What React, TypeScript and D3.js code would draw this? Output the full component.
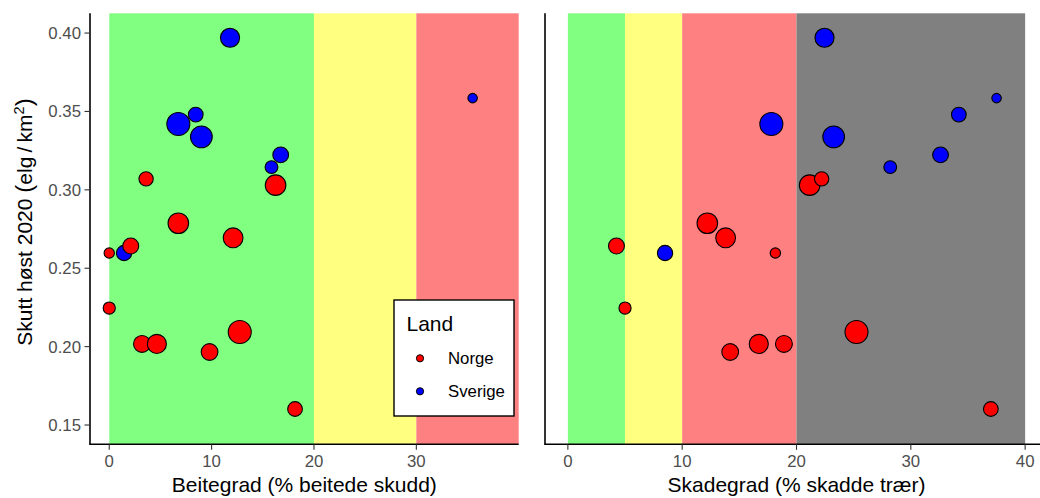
import React from 'react';
import * as d3 from 'd3';

// Data (one entry per area)
const land = [
  'Sverige', 'Sverige', 'Sverige', 'Sverige', 'Sverige', 'Sverige', 'Sverige', 'Sverige',
  'Norge', 'Norge', 'Norge', 'Norge', 'Norge', 'Norge', 'Norge', 'Norge', 'Norge', 'Norge', 'Norge', 'Norge',
];
const beitegrad = [11.8, 35.5, 8.45, 6.75, 9.0, 16.75, 15.85, 1.45, 16.25, 3.6, 6.75, 12.1, 2.1, 0, 0, 12.75, 3.2, 4.65, 9.8, 18.15];
const skadegrad = [22.45, 37.5, 34.2, 17.8, 23.25, 32.6, 28.2, 8.5, 21.15, 22.2, 12.2, 13.8, 4.25, 18.15, 5.0, 25.25, 18.9, 16.7, 14.2, 37.0];
const skutt = [0.397, 0.3585, 0.348, 0.342, 0.3338, 0.3223, 0.3145, 0.2597, 0.303, 0.307, 0.2787, 0.2694, 0.2642, 0.2597, 0.2246, 0.2093, 0.2017, 0.2017, 0.1966, 0.1602];
const storrelse = [69, 17, 41, 100, 89, 47, 31, 44, 80, 39, 80, 74, 48, 20, 28, 100, 54, 69, 53, 41];

const landNavn = ['Norge', 'Sverige'];
const yTicks = [0.15, 0.2, 0.25, 0.3, 0.35, 0.4];
const beiteTicks = [0, 10, 20, 30];
const skadeTicks = [0, 10, 20, 30, 40];
const beiteGrenser = [0, 20, 30, 40];
const skadeGrenser = [0, 5, 10, 20, 40];

const soneFarger = ['#80FF80', '#FFFF80', '#FF8080', '#808080'];
const landFarge = d3.scaleOrdinal<string, string>().domain(landNavn).range(['#FF0000', '#0000FF']);

const points = land.map((l, i) => ({
  land: l,
  beite: beitegrad[i],
  skade: skadegrad[i],
  skutt: skutt[i],
  size: storrelse[i],
}));

const top = 13.3;
const bottom = 444.3;
const font = '"Liberation Sans", Arial, Helvetica, sans-serif';

const y = d3.scaleLinear().domain([0.1377, 0.4126]).range([bottom, top]);
const r = d3.scaleSqrt().domain([0, 100]).range([0, 11.5]);

type PanelProps = {
  x: d3.ScaleLinear<number, number>;
  left: number;
  right: number;
  grenser: number[];
  ticks: number[];
  value: (d: (typeof points)[number]) => number;
  title: string;
  showY: boolean;
};

const Panel = ({ x, left, right, grenser, ticks, value, title, showY }: PanelProps) => {
  const soner = d3.pairs(grenser);
  return (
    <g>
      {soner.map(([a, b], i) => (
        <rect key={i} x={x(a)} y={top} width={x(b) - x(a)} height={bottom - top} fill={soneFarger[i]} />
      ))}
      {points.map((d, i) => (
        <circle
          key={i}
          cx={x(value(d))}
          cy={y(d.skutt)}
          r={r(d.size)}
          fill={landFarge(d.land)}
          stroke="#000"
          strokeWidth={1.1}
        />
      ))}
      {/* axes */}
      <line x1={left} x2={left} y1={top} y2={bottom} stroke="#000" strokeWidth={1.6} />
      <line x1={left - 0.8} x2={right} y1={bottom} y2={bottom} stroke="#000" strokeWidth={1.6} />
      {ticks.map(t => (
        <g key={t} transform={`translate(${x(t)},${bottom})`}>
          <line y1={0} y2={5.5} stroke="#333" strokeWidth={1.1} />
          <text y={23.2} textAnchor="middle" fontSize={16.8} fill="#4D4D4D" fontFamily={font}>{t}</text>
        </g>
      ))}
      {showY && yTicks.map(t => (
        <g key={t} transform={`translate(${left},${y(t)})`}>
          <line x1={-5.5} x2={0} stroke="#333" strokeWidth={1.1} />
          <text x={-9} y={6} textAnchor="end" fontSize={16.8} fill="#4D4D4D" fontFamily={font}>{d3.format('.2f')(t)}</text>
        </g>
      ))}
      <text x={(left + x.range()[1]) / 2} y={492} textAnchor="middle" fontSize={21} fill="#000" fontFamily={font}>{title}</text>
    </g>
  );
};

export default function App() {
  const xBeite = d3.scaleLinear().domain([-1.88, 40]).range([90, 518.7]);
  const xSkade = d3.scaleLinear().domain([-2, 42]).range([545, 1048]);

  return (
    <svg width={1040} height={498} style={{ display: 'block', position: 'absolute', left: 0, top: 0 }}>
      <rect width={1040} height={498} fill="#fff" />
      <Panel x={xBeite} left={90} right={518.7} grenser={beiteGrenser} ticks={beiteTicks}
        value={d => d.beite} title="Beitegrad (% beitede skudd)" showY />
      <Panel x={xSkade} left={545} right={1040} grenser={skadeGrenser} ticks={skadeTicks}
        value={d => d.skade} title="Skadegrad (% skadde trær)" showY={false} />

      <text transform="translate(32,222) rotate(-90)" textAnchor="middle" fontSize={21} fill="#000" fontFamily={font}>
        <tspan>Skutt høst 2020 </tspan>
        <tspan fontSize={24}>(</tspan>
        <tspan>elg</tspan>
        <tspan>{'\u2009/\u2009'}</tspan>
        <tspan>km</tspan>
        <tspan dy={-8} fontSize={14.5}>2</tspan>
        <tspan dy={8} fontSize={24}>)</tspan>
      </text>

      {/* legend */}
      <g fontFamily={font}>
        <rect x={394} y={300} width={120} height={116} fill="#fff" stroke="#000" strokeWidth={1.4} />
        <text x={406.5} y={330.5} fontSize={21} fill="#000">Land</text>
        {landNavn.map((n, i) => (
          <g key={n} transform={`translate(420,${358.3 + i * 33})`}>
            <circle r={3.6} fill={landFarge(n)} stroke="#000" strokeWidth={1} />
            <text x={28} y={6} fontSize={16.8} fill="#000">{n}</text>
          </g>
        ))}
      </g>
    </svg>
  );
}
